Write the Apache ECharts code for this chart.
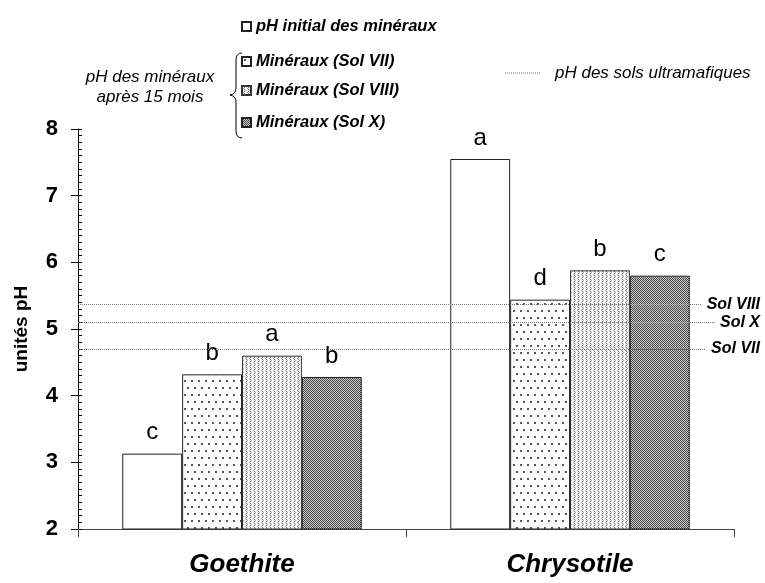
<!DOCTYPE html>
<html><head><meta charset="utf-8">
<script src="https://cdn.jsdelivr.net/npm/echarts@6/dist/echarts.min.js"></script>
<style>html,body{margin:0;padding:0;background:#fff}#c{width:765px;height:583px}</style>
</head><body><div id="c"></div>
<script>
const categories = ['Goethite', 'Chrysotile'];
const seriesNames = ['pH initial des minéraux', 'Minéraux (Sol VII)', 'Minéraux (Sol VIII)', 'Minéraux (Sol X)'];
const initialPH = [3.13, 7.55];
const solVII = [4.32, 5.44];
const solVIII = [4.60, 5.88];
const solX = [4.28, 5.80];
const lettersInitial = ['c', 'a'];
const lettersVII = ['b', 'd'];
const lettersVIII = ['a', 'b'];
const lettersX = ['b', 'c'];
const soilNames = ['Sol VIII', 'Sol X', 'Sol VII'];
const soilPH = [5.37, 5.10, 4.70];
const yTicks = [2, 3, 4, 5, 6, 7, 8];

function pattern(w, h, draw) {
  const c = document.createElement('canvas');
  c.width = w; c.height = h;
  const g = c.getContext('2d');
  draw(g);
  return { image: c, repeat: 'repeat' };
}
const patVII = pattern(7, 14, g => {
  g.fillStyle = '#fff'; g.fillRect(0, 0, 7, 14);
  g.fillStyle = '#555';
  g.fillRect(2, 2, 2, 2);
  g.fillRect(5, 9, 2, 2);
});
const patVIII = pattern(4, 4, g => {
  g.fillStyle = '#ececec'; g.fillRect(0, 0, 4, 4);
  g.fillStyle = '#fff'; g.fillRect(0, 0, 1, 4);
  g.fillStyle = '#777'; g.fillRect(2, 1, 1, 1); g.fillRect(2, 3, 1, 1);
  g.fillStyle = '#aaa'; g.fillRect(1, 2, 1, 1); g.fillRect(3, 0, 1, 1);
});
const patX = pattern(2, 2, g => {
  g.fillStyle = '#c8c8c8'; g.fillRect(0, 0, 2, 2);
  g.fillStyle = '#4a4a4a'; g.fillRect(0, 0, 1, 1); g.fillRect(1, 1, 1, 1);
});

const FONT = 'Liberation Sans, Arial, Helvetica, sans-serif';
const letterLabel = arr => ({
  show: true, position: 'top', distance: 9,
  formatter: p => arr[p.dataIndex],
  fontFamily: FONT, fontSize: 24, color: '#000'
});
const barBase = {
  type: 'bar', barGap: '0%', barCategoryGap: '27%',
  emphasis: { disabled: true }
};

const legendText = { fontFamily: FONT, fontSize: 16.5, fontWeight: 'bold', fontStyle: 'italic', color: '#000' };
const legendRows = [27, 62, 91, 123];
const legends = seriesNames.map((n, i) => ({
  data: [n], left: 241, top: legendRows[i] - 9, itemWidth: 9, itemHeight: 9, itemGap: 4,
  icon: 'rect', selectedMode: false, textStyle: legendText, padding: [0, 0, 0, 0]
}));

const braceStyle = { fill: 'none', stroke: '#000', lineWidth: 1 };
const chart = echarts.init(document.getElementById('c'), null, { renderer: 'canvas' });
chart.setOption({
  animation: false,
  backgroundColor: '#fff',
  grid: { left: 78, right: 31, top: 129, bottom: 54 },
  legend: legends,
  xAxis: {
    type: 'category', data: categories,
    axisLine: { lineStyle: { color: '#444', width: 1 } },
    axisTick: { show: true, length: 8, lineStyle: { color: '#444' } },
    axisLabel: { margin: 23, fontFamily: FONT, fontSize: 26, fontWeight: 'bold', fontStyle: 'italic', color: '#000' }
  },
  yAxis: [{
    type: 'value', min: 2, max: 8, interval: 1,
    name: 'unités pH', nameLocation: 'middle', nameGap: 47,
    nameTextStyle: { fontFamily: FONT, fontSize: 19, fontWeight: 'bold', color: '#000' },
    axisLine: { show: true, lineStyle: { color: '#000' } },
    axisTick: { show: true, length: 7, lineStyle: { color: '#000' } },
    axisLabel: { margin: 20, fontFamily: FONT, fontSize: 22, fontWeight: 'bold', color: '#000',
      formatter: v => yTicks.includes(v) ? String(v) : '' },
    splitLine: { show: false }
  }, {
    type: 'value', min: 2, max: 8, interval: 0.1, position: 'left',
    axisLine: { show: false },
    axisTick: { show: true, inside: true, length: 4, lineStyle: { color: '#000' } },
    axisLabel: { show: false }, splitLine: { show: false }
  }],
  series: [
    Object.assign({}, barBase, {
      name: seriesNames[0], data: initialPH,
      itemStyle: { color: '#fff', borderColor: '#222', borderWidth: 1 },
      label: letterLabel(lettersInitial),
      markLine: {
        silent: true, symbol: ['none', 'none'],
        lineStyle: { type: [1, 1], color: '#777', width: 1 },
        label: {
          show: true, position: 'insideEnd', formatter: '{b}', backgroundColor: '#fff',
          padding: [1, 0, 1, 5], distance: [-26, 0],
          fontFamily: FONT, fontSize: 16, fontWeight: 'bold', fontStyle: 'italic', color: '#000'
        },
        data: soilNames.map((n, i) => ({ name: n, yAxis: soilPH[i] }))
      }
    }),
    Object.assign({}, barBase, {
      name: seriesNames[1], data: solVII,
      itemStyle: { color: patVII, borderColor: '#222', borderWidth: 1 },
      label: letterLabel(lettersVII)
    }),
    Object.assign({}, barBase, {
      name: seriesNames[2], data: solVIII,
      itemStyle: { color: patVIII, borderColor: '#333', borderWidth: 1 },
      label: letterLabel(lettersVIII)
    }),
    Object.assign({}, barBase, {
      name: seriesNames[3], data: solX,
      itemStyle: { color: patX, borderColor: '#222', borderWidth: 1 },
      label: letterLabel(lettersX)
    })
  ],
  graphic: [
    { type: 'text', x: 150, y: 77, style: { text: 'pH des minéraux', fontFamily: FONT, fontSize: 17, fontStyle: 'italic', fill: '#000', align: 'center', verticalAlign: 'middle' } },
    { type: 'text', x: 150, y: 97, style: { text: 'après 15 mois', fontFamily: FONT, fontSize: 17, fontStyle: 'italic', fill: '#000', align: 'center', verticalAlign: 'middle' } },
    { type: 'bezierCurve', shape: { x1: 242, y1: 53, x2: 236, y2: 60, cpx1: 236, cpy1: 53 }, style: braceStyle },
    { type: 'line', shape: { x1: 236, y1: 60, x2: 236, y2: 88 }, style: braceStyle },
    { type: 'bezierCurve', shape: { x1: 236, y1: 88, x2: 230, y2: 95, cpx1: 236, cpy1: 94 }, style: braceStyle },
    { type: 'bezierCurve', shape: { x1: 230, y1: 95, x2: 236, y2: 102, cpx1: 236, cpy1: 96 }, style: braceStyle },
    { type: 'line', shape: { x1: 236, y1: 102, x2: 236, y2: 131 }, style: braceStyle },
    { type: 'bezierCurve', shape: { x1: 236, y1: 131, x2: 242, y2: 138, cpx1: 236, cpy1: 138 }, style: braceStyle },
    { type: 'line', shape: { x1: 505, y1: 73, x2: 540, y2: 73 }, style: { stroke: '#777', lineWidth: 1, lineDash: [1, 1] } },
    { type: 'text', x: 555, y: 73, style: { text: 'pH des sols ultramafiques', fontFamily: FONT, fontSize: 17, fontStyle: 'italic', fill: '#000', align: 'left', verticalAlign: 'middle' } }
  ]
});
</script></body></html>
